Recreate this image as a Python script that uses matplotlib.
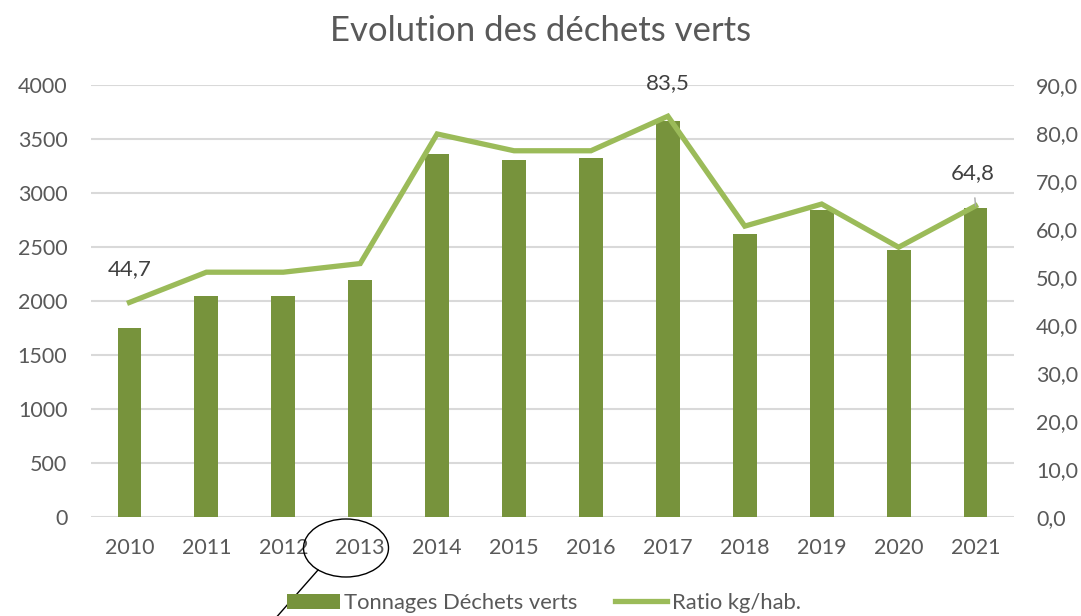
import matplotlib
matplotlib.use('Agg')
import matplotlib.pyplot as plt
from matplotlib.patches import Ellipse
from matplotlib.lines import Line2D
from matplotlib.ticker import FuncFormatter

plt.rcParams['font.family'] = ['Lato', 'DejaVu Sans']

# data
annees = ['2010', '2011', '2012', '2013', '2014', '2015', '2016', '2017', '2018', '2019', '2020', '2021']
tonnages = [1750, 2050, 2050, 2190, 3360, 3310, 3325, 3665, 2620, 2845, 2470, 2865]
ratio = [44.7, 51.0, 51.0, 52.8, 79.8, 76.3, 76.3, 83.5, 60.6, 65.2, 56.2, 64.8]
labels_ratio = {0: '44,7', 7: '83,5', 11: '64,8'}

bar_color = '#77933C'
line_color = '#9BBB59'
txt_color = '#595959'

fig = plt.figure(figsize=(10.81, 6.16), dpi=100)
ax = fig.add_axes([91 / 1081, 1 - 517 / 616, (1014 - 91) / 1081, (517 - 85) / 616])
ax2 = ax.twinx()

x = list(range(len(annees)))
bars = ax.bar(x, tonnages, width=0.31, color=bar_color, zorder=2, label='Tonnages Déchets verts')
line, = ax2.plot(x, ratio, color=line_color, linewidth=3.8, solid_joinstyle='miter',
                 label='Ratio kg/hab.', zorder=3)

ax.set_xlim(-0.5, len(annees) - 0.5)
ax.set_ylim(0, 4000)
ax.set_yticks(range(0, 4001, 500))
ax2.set_ylim(0, 90)
ax2.set_yticks(range(0, 91, 10))
ax2.yaxis.set_major_formatter(FuncFormatter(lambda v, p: f'{v:.1f}'.replace('.', ',')))
ax.set_xticks(x)
ax.set_xticklabels(annees)

ax.grid(axis='y', color='#D9D9D9', linewidth=1.5, zorder=0)
ax.set_axisbelow(True)
for a in (ax, ax2):
    for s in a.spines.values():
        s.set_visible(False)
    a.tick_params(length=0, labelsize=15.5, labelcolor=txt_color)
ax.tick_params(axis='y', pad=17)
ax2.tick_params(axis='y', pad=16)
ax.tick_params(axis='x', pad=15)

# ratio data labels
for i, t in labels_ratio.items():
    if i == len(annees) - 1:
        ax2.annotate(t, (x[i], ratio[i]), xytext=(-2, 24), textcoords='offset points',
                     ha='center', va='center', fontsize=16, color='#404040',
                     arrowprops=dict(arrowstyle='-', color='#A6A6A6', lw=1, shrinkA=9, shrinkB=0))
    else:
        ax2.annotate(t, (x[i], ratio[i]), xytext=(0, 24), textcoords='offset points',
                     ha='center', va='center', fontsize=16, color='#404040')

fig.text(0.5, 1 - 31 / 616, 'Evolution des déchets verts', ha='center', va='center',
         fontsize=25, color=txt_color)

fig.legend([bars, line], ['Tonnages Déchets verts', 'Ratio kg/hab.'], loc='center',
           bbox_to_anchor=(0.503, 1 - 603 / 616), ncol=2, frameon=False, fontsize=15.8,
           handlelength=2.4, handletextpad=0.2, columnspacing=1.7, labelcolor=txt_color,
           handleheight=0.7)

# hand drawn ellipse around 2013 with a pointer line
fig.add_artist(Ellipse((346 / 1081, 1 - 548 / 616), 85 / 1081, 58 / 616,
                       transform=fig.transFigure, fill=False, edgecolor='black', linewidth=1))
fig.add_artist(Line2D([318 / 1081, 274 / 1081], [1 - 570 / 616, 1 - 620 / 616],
                      transform=fig.transFigure, color='black', linewidth=1))

fig.savefig('out.png', dpi=100)
